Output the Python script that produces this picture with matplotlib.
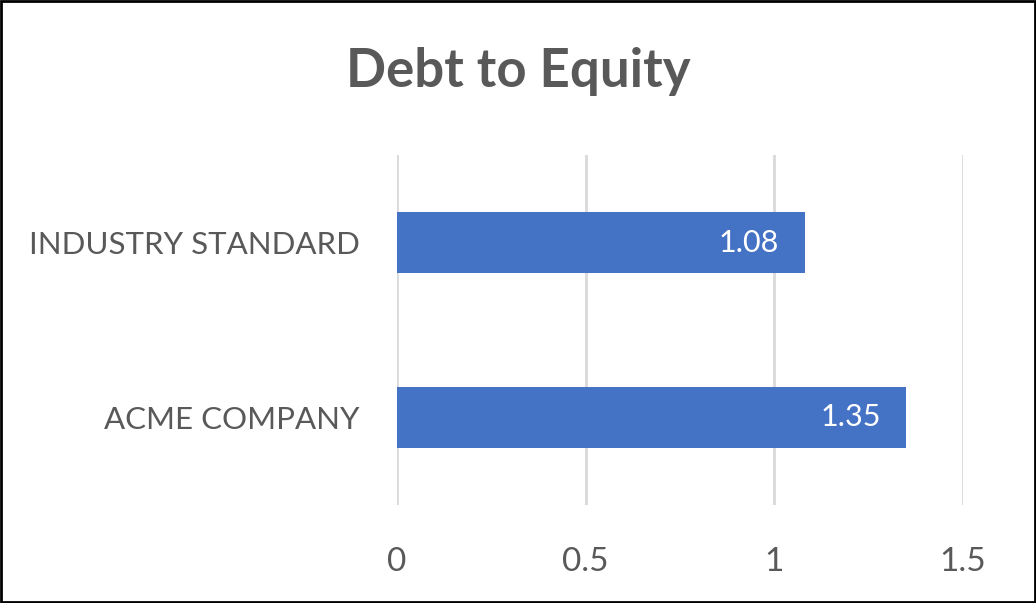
import matplotlib.pyplot as plt
from matplotlib.patches import Rectangle

plt.rcParams['font.family'] = ['Lato', 'DejaVu Sans']

categories = ['ACME COMPANY', 'INDUSTRY STANDARD']
values = [1.35, 1.08]
xticks = [0, 0.5, 1, 1.5]
xtick_labels = ['0', '0.5', '1', '1.5']

grey = '#595959'
fig = plt.figure(figsize=(10.36, 6.03), dpi=100)
ax = fig.add_axes([397 / 1036, 1 - 505 / 603, 566 / 1036, 350 / 603])

bars = ax.barh(range(len(categories)), values, height=0.35, color='#4472C4', zorder=3)
for b, v in zip(bars, values):
    ax.text(b.get_width() - 0.068, b.get_y() + b.get_height() / 2, f'{v:.2f}',
            ha='right', va='center', color='white', fontsize=22)

ax.set_xlim(0, 1.5)
ax.set_ylim(-0.5, 1.5)
ax.set_xticks(xticks)
ax.set_xticklabels(xtick_labels, fontsize=24, color=grey)
ax.set_yticks(range(len(categories)))
ax.set_yticklabels(categories, fontsize=22.5, color=grey)
ax.tick_params(length=0)
ax.tick_params(axis='x', pad=30)
ax.tick_params(axis='y', pad=27)
ax.grid(axis='x', color='#d9d9d9', linewidth=2, zorder=0)
for s in ax.spines.values():
    s.set_visible(False)

fig.text(0.5, 1 - 72 / 603, 'Debt to Equity', ha='center', va='center',
         fontsize=38, fontweight='bold', color=grey)
fig.patches.append(Rectangle((0.001, 0.002), 0.998, 0.996, transform=fig.transFigure,
                             fill=False, edgecolor='black', linewidth=2))

fig.savefig('out.png', dpi=100)
